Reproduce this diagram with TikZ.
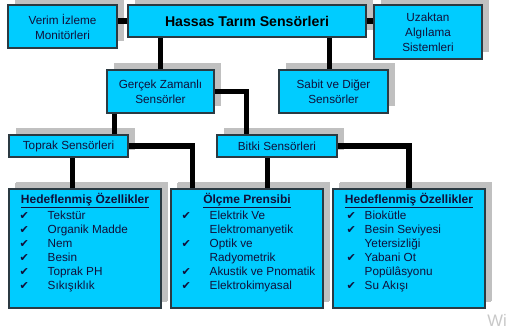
\documentclass[tikz,border=0pt]{standalone}
\usepackage{fontspec}
\setmainfont{Liberation Sans}
\newfontfamily\symfont{DejaVu Sans}
\usetikzlibrary{shadows}
\definecolor{boxcyan}{HTML}{00CCFF}
\definecolor{bordercol}{HTML}{2B3A42}
\definecolor{shgray}{HTML}{C0C0C0}
\definecolor{txtcol}{HTML}{10103A}
\definecolor{wmgray}{HTML}{C8C8C8}
\newcommand{\chkmark}{{\symfont\fontsize{8.3}{10.5}\selectfont ✔}}
\newcommand{\chk}{\makebox[21pt][l]{\chkmark}}
\newcommand{\nochk}{\hspace*{21pt}}
\newcommand{\chkb}{\makebox[13.5pt][l]{\chkmark}}
\newcommand{\nochkb}{\hspace*{13.5pt}}
\begin{document}
\begin{tikzpicture}[x=0.75pt,y=-0.75pt,
  box/.style={draw=bordercol, fill=boxcyan, line width=0.8pt, inner sep=0pt, align=center,
    text=txtcol, font=\fontsize{8.8}{11.25}\selectfont,
    drop shadow={shadow xshift=5.25pt, shadow yshift=5.25pt, fill=shgray, opacity=1}},
  bigbox/.style={box, minimum width=114pt, minimum height=89.25pt,
    drop shadow={shadow xshift=4.8pt, shadow yshift=4.8pt, fill=shgray, opacity=1}},
  hdr/.style={anchor=base, inner sep=0pt, text=txtcol, font=\bfseries\fontsize{9}{10.5}\selectfont},
  lst/.style={anchor=north west, inner sep=0pt, align=left, text=txtcol, font=\fontsize{8.8}{10.5}\selectfont},
  conn/.style={line width=4pt, black}]
\useasboundingbox (0,0) rectangle (507,331);
\clip (0,0) rectangle (507,331);
\fill[white] (0,0) rectangle (507,331);

\node[box, minimum width=81.75pt, minimum height=32.25pt] (verim) at (62.5,26.5) {Verim İzleme\\Monitörleri};
\node[box, minimum width=178.5pt, minimum height=24pt, font=\bfseries\fontsize{10.6}{12}\selectfont, text=black] (hassas) at (247,21) {Hassas Tarım Sensörleri};
\node[box, minimum width=81pt, minimum height=40.5pt] (uzak) at (428,32) {Uzaktan\\Algılama\\Sistemleri};
\node[box, minimum width=80.25pt, minimum height=32.25pt] (gercek) at (160.5,91.5) {Gerçek Zamanlı\\Sensörler};
\node[box, minimum width=81.75pt, minimum height=32.25pt] (sabit) at (333.5,91.5) {Sabit ve Diğer\\Sensörler};
\node[box, minimum width=89.25pt, minimum height=16.5pt] (toprak) at (68.5,146) {Toprak Sensörleri};
\node[box, minimum width=90pt, minimum height=16.5pt] (bitki) at (277,146) {Bitki Sensörleri};

\node[bigbox] (hl) at (85,248.5) {};
\node[bigbox] (olc) at (247,248.5) {};
\node[bigbox] (hr) at (409,248.5) {};

% connectors
\draw[conn] (hassas.west) -- (hassas.west -| verim.east);
\draw[conn] (hassas.east) -- (hassas.east -| uzak.west);
\draw[conn] (gercek.north) -- (gercek.north |- hassas.south);
\draw[conn] ([xshift=-3pt]sabit.north) -- ([xshift=-3pt]sabit.north |- hassas.south);
\draw[conn] (gercek.east) -| ([xshift=22.5pt]bitki.north west);
\draw[conn] ([xshift=6pt]gercek.south west) -- ([xshift=6pt]gercek.south west |- toprak.north);
\draw[conn] (toprak.east) -| ([xshift=16.5pt]olc.north west);
\draw[conn] ([xshift=48pt]hl.north west) -- ([xshift=48pt]hl.north west |- toprak.south);
\draw[conn] (bitki.east) -| (hr.north);
\draw[conn] ([xshift=38.25pt]bitki.south west) -- ([xshift=38.25pt]bitki.south west |- olc.north);

% box contents
\node[hdr] (hlh) at ([yshift=-11pt]hl.north) {\underline{Hedeflenmiş Özellikler}};
\node[lst] (hll) at ([xshift=8.25pt,yshift=-15.5pt]hl.north west) {\strut\chk Tekstür\\\chk Organik Madde\\\chk Nem\\\chk Besin\\\chk Toprak PH\\\chk Sıkışıklık};

\node[hdr] (olch) at ([yshift=-11pt]olc.north) {\underline{Ölçme Prensibi}};
\node[lst] (olcl) at ([xshift=8.25pt,yshift=-15.5pt]olc.north west) {\strut\chk Elektrik Ve\\\nochk Elektromanyetik\\\chk Optik ve\\\nochk Radyometrik\\\chk Akustik ve Pnomatik\\\chk Elektrokimyasal};

\node[hdr] (hrh) at ([yshift=-11pt]hr.north) {\underline{Hedeflenmiş Özellikler}};
\node[lst] (hrl) at ([xshift=10.5pt,yshift=-15.5pt]hr.north west) {\strut\chkb Biokütle\\\chkb Besin Seviyesi\\\nochkb Yetersizliği\\\chkb Yabani Ot\\\nochkb Popülâsyonu\\\chkb Su Akışı};

\node[anchor=west, inner sep=0pt, text=wmgray, font=\fontsize{12.5}{14}\selectfont] (wm) at (487,320) {Wi};
\end{tikzpicture}
\end{document}
